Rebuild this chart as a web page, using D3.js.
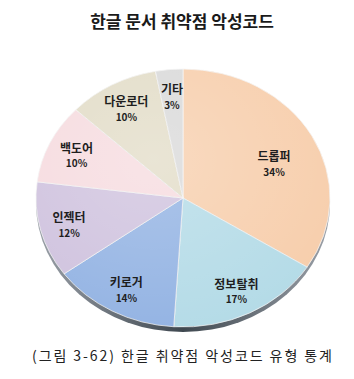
<!DOCTYPE html>
<html>
<head>
<meta charset="utf-8">
<script src="https://cdn.jsdelivr.net/npm/d3@7"></script>
<style>
body { margin: 0; background: #fff; }
text { font-family: "Noto Sans CJK KR", "Noto Sans", sans-serif; }
</style>
</head>
<body>
<div id="canvas"></div>
<script>
// DATA ------------------------------------------------------
var categories = ["드롭퍼", "정보탈취", "키로거", "인젝터", "백도어", "다운로더", "기타"];
var values = [34, 17, 14, 12, 10, 10, 3];
var colors = ["#f7ceac", "#b4dbe7", "#93b3e3", "#cfc2de", "#f6dbdf", "#e2dcc7", "#d9d9d9"];
var text_title = "한글 문서 취약점 악성코드";
var text_caption = "(그림 3-62) 한글 취약점 악성코드 유형 통계";

// STRUCTURE -------------------------------------------------
var W = 354, H = 379;
var cx = 183, cy = 198, rx = 147, ry = 129, depth = 5;

var svg = d3.select("#canvas").append("svg")
.attr("width", W)
.attr("height", H);

var defs = svg.append("defs");
var shine = defs.append("radialGradient")
.attr("id", "shine")
.attr("cx", "40%").attr("cy", "35%").attr("r", "70%");
shine.append("stop").attr("offset", "0%").attr("stop-color", "#fff").attr("stop-opacity", 0.25);
shine.append("stop").attr("offset", "100%").attr("stop-color", "#fff").attr("stop-opacity", 0);

var rim = defs.append("linearGradient")
.attr("id", "rim").attr("x1", "0%").attr("x2", "100%");
rim.append("stop").attr("offset", "0%").attr("stop-color", "#9aa0a8");
rim.append("stop").attr("offset", "50%").attr("stop-color", "#3f4850");
rim.append("stop").attr("offset", "100%").attr("stop-color", "#9aa0a8");

// title
svg.append("text")
.attr("x", 182)
.attr("y", 28)
.attr("text-anchor", "middle")
.style("font-size", "17px")
.style("font-weight", "bold")
.style("fill", "#1a1a1a")
.text(text_title);

// rim / thickness
svg.append("ellipse")
.attr("cx", cx).attr("cy", cy + depth)
.attr("rx", rx).attr("ry", ry)
.style("fill", "url(#rim)");

// PIE -------------------------------------------------------
var pie = d3.pie().sort(null).value(function(d) { return d; });
var arcs = pie(values);
var arc = d3.arc().innerRadius(0).outerRadius(rx);
var labelArc = d3.arc().innerRadius(rx * 0.8).outerRadius(rx * 0.8);

var pie_group = svg.append("g")
.attr("transform", "translate(" + cx + "," + cy + ") scale(1," + (ry / rx) + ")");

pie_group.selectAll(".slice")
.data(arcs)
.enter().append("path")
.attr("class", "slice")
.attr("d", arc)
.style("fill", function(d, i) { return colors[i]; })
.style("stroke", "#f4f4f4")
.style("stroke-width", 0.8);

pie_group.append("circle")
.attr("r", rx)
.style("fill", "url(#shine)");

// labels
var label_group = svg.append("g");
arcs.forEach(function(d, i) {
var c = labelArc.centroid(d);
var x = cx + c[0];
var y = cy + c[1] * ry / rx;
// big slice: label sits closer to the middle
if (i == 0) { x -= 12; y += 14; }
var t = label_group.append("text")
.attr("x", x)
.attr("y", y)
.attr("text-anchor", "middle")
.style("fill", "#1e1e1e")
.style("font-weight", "bold");
t.append("tspan").attr("x", x).attr("dy", "-0.1em").style("font-size", "12px").text(categories[i]);
t.append("tspan").attr("x", x).attr("dy", "1.45em").style("font-size", "10px").text(values[i] + "%");
});

// caption
svg.append("text")
.attr("x", 182)
.attr("y", 361)
.attr("text-anchor", "middle")
.attr("textLength", 300)
.attr("lengthAdjust", "spacing")
.style("font-size", "14px")
.style("fill", "#222")
.text(text_caption);
</script>
</body>
</html>
